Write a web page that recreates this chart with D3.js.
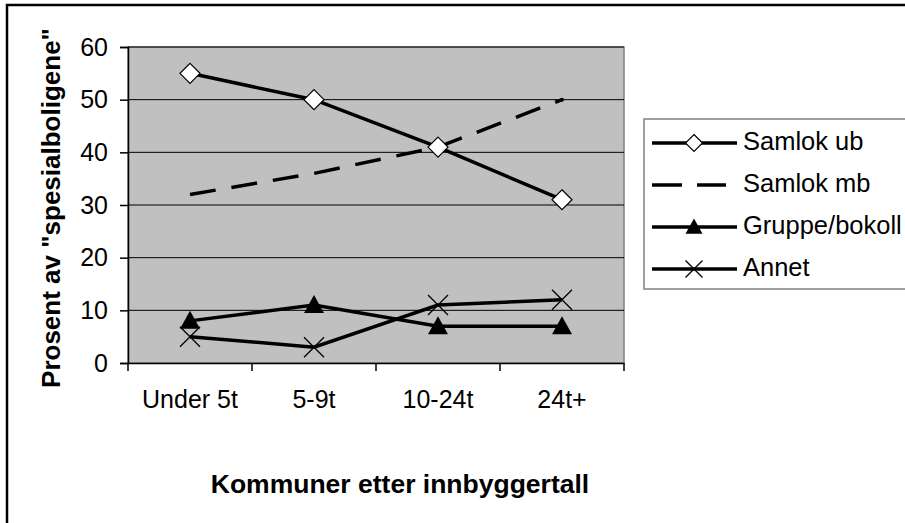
<!DOCTYPE html>
<html>
<head>
<meta charset="utf-8">
<script src="https://cdn.jsdelivr.net/npm/d3@7"></script>
<style>
  html, body { margin: 0; padding: 0; background: #fff; }
  svg { display: block; }
  text { font-family: "Liberation Sans", Arial, sans-serif; fill: #000; }
</style>
</head>
<body>
<svg id="chart" width="905" height="523"></svg>
<script>
const categories = ["Under 5t", "5-9t", "10-24t", "24t+"];
const samlokUb = [55, 50, 41, 31];
const samlokMb = [32, 36, 41, 50];
const gruppeBokoll = [8, 11, 7, 7];
const annet = [5, 3, 11, 12];
const yTicks = [0, 10, 20, 30, 40, 50, 60];
const seriesNames = ["Samlok ub", "Samlok mb", "Gruppe/bokoll", "Annet"];
const yTitle = 'Prosent av "spesialboligene"';
const xTitle = "Kommuner etter innbyggertall";

const series = [
  { name: seriesNames[0], values: samlokUb, marker: "diamond", dash: null },
  { name: seriesNames[1], values: samlokMb, marker: "dot", dash: "26,16" },
  { name: seriesNames[2], values: gruppeBokoll, marker: "triangle", dash: null },
  { name: seriesNames[3], values: annet, marker: "cross", dash: null }
];

const svg = d3.select("#chart");
const plot = { left: 128, top: 47, right: 624, bottom: 363 };

// outer chart border (only top/left visible in the frame)
svg.append("rect").attr("x", 7).attr("y", 5).attr("width", 1000).attr("height", 1000)
  .attr("fill", "#fff").attr("stroke", "#000").attr("stroke-width", 2.5);

const x = d3.scaleBand().domain(categories).range([plot.left, plot.right]).padding(0);
const y = d3.scaleLinear().domain([0, 60]).range([plot.bottom, plot.top]);

// plot area
svg.append("rect").attr("x", plot.left).attr("y", plot.top)
  .attr("width", plot.right - plot.left).attr("height", plot.bottom - plot.top)
  .attr("fill", "#c0c0c0").attr("stroke", "#808080").attr("stroke-width", 1.5);

// gridlines
svg.append("g").selectAll("line").data(yTicks.filter(d => d > 0)).join("line")
  .attr("x1", plot.left).attr("x2", plot.right)
  .attr("y1", d => y(d)).attr("y2", d => y(d))
  .attr("stroke", "#000").attr("stroke-width", 1);

// y axis
const yAxis = svg.append("g").attr("transform", `translate(${plot.left},0)`)
  .call(d3.axisLeft(y).tickValues(yTicks).tickSize(8).tickPadding(12));
yAxis.select(".domain").attr("stroke", "#000").attr("stroke-width", 1.5);
yAxis.selectAll(".tick line").attr("stroke", "#000").attr("stroke-width", 1.5);
yAxis.selectAll(".tick text").style("font-size", "25px").attr("font-family", null);

// x axis
const xAxis = svg.append("g").attr("transform", `translate(0,${plot.bottom})`)
  .call(d3.axisBottom(x).tickSize(0).tickPadding(27));
xAxis.select(".domain").attr("stroke", "#000").attr("stroke-width", 1.5);
xAxis.selectAll(".tick text").style("font-size", "25px").attr("font-family", null);
// boundary ticks
svg.append("g").selectAll("line").data(categories.concat(["__end"])).join("line")
  .attr("x1", (d, i) => i < categories.length ? x(d) : x(categories[categories.length - 1]) + x.bandwidth())
  .attr("x2", (d, i) => i < categories.length ? x(d) : x(categories[categories.length - 1]) + x.bandwidth())
  .attr("y1", plot.bottom).attr("y2", plot.bottom + 8)
  .attr("stroke", "#000").attr("stroke-width", 1.5);

const cx = c => x(c) + x.bandwidth() / 2;

// lines
const line = d3.line().x((d, i) => cx(categories[i])).y(d => y(d));
series.forEach(s => {
  svg.append("path").datum(s.values).attr("d", line)
    .attr("fill", "none").attr("stroke", "#000").attr("stroke-width", 3.5)
    .attr("stroke-dasharray", s.dash);
});

function drawMarker(g, type, px, py, r) {
  if (type === "diamond") {
    g.append("path").attr("d", `M${px},${py - r}L${px + r},${py}L${px},${py + r}L${px - r},${py}Z`)
      .attr("fill", "#fff").attr("stroke", "#000").attr("stroke-width", 1.2);
  } else if (type === "triangle") {
    g.append("path").attr("d", `M${px},${py - r}L${px + r},${py + r * 0.8}L${px - r},${py + r * 0.8}Z`)
      .attr("fill", "#000");
  } else if (type === "cross") {
    g.append("path").attr("d", `M${px - r},${py - r}L${px + r},${py + r}M${px + r},${py - r}L${px - r},${py + r}`)
      .attr("stroke", "#000").attr("stroke-width", 1.3).attr("fill", "none");
  } else if (type === "dot") {
    g.append("circle").attr("cx", px).attr("cy", py).attr("r", 2).attr("fill", "#000");
  }
}

series.forEach(s => {
  const g = svg.append("g");
  s.values.forEach((v, i) => {
    if (s.marker === "dot" && i < s.values.length - 1) return;
    drawMarker(g, s.marker, cx(categories[i]), y(v), 10);
  });
});

// axis titles
svg.append("text").attr("transform", `translate(60,208) rotate(-90)`)
  .attr("text-anchor", "middle").style("font-size", "26px").style("font-weight", "bold").text(yTitle);
svg.append("text").attr("x", 400).attr("y", 493)
  .attr("text-anchor", "middle").style("font-size", "26.5px").style("font-weight", "bold").text(xTitle);

// legend
const lg = svg.append("g");
lg.append("rect").attr("x", 644).attr("y", 119).attr("width", 400).attr("height", 170)
  .attr("fill", "#fff").attr("stroke", "#808080").attr("stroke-width", 1.5);
series.forEach((s, i) => {
  const ly = 143 + i * 42;
  lg.append("line").attr("x1", 652).attr("x2", s.dash ? 726 : 737).attr("y1", ly).attr("y2", ly)
    .attr("stroke", "#000").attr("stroke-width", 3.5).attr("stroke-dasharray", s.dash ? "30,15" : null);
  if (s.marker !== "dot") drawMarker(lg, s.marker, 694, ly, 8.5);
  lg.append("text").attr("x", 743).attr("y", ly + 7).style("font-size", "25.5px").text(s.name);
});
</script>
</body>
</html>
